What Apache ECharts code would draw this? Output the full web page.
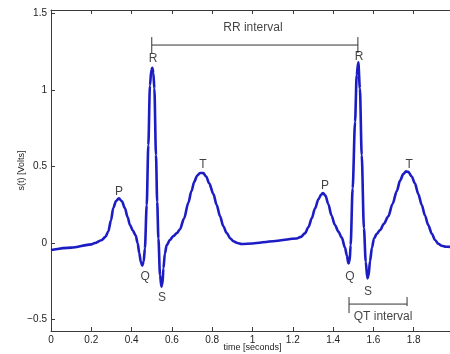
<!DOCTYPE html>
<html>
<head>
<meta charset="utf-8">
<script src="https://cdn.jsdelivr.net/npm/echarts@6/dist/echarts.min.js"></script>
<style>
html,body{margin:0;padding:0;background:#fff;}
#chart{width:450px;height:354px;}
</style>
</head>
<body>
<div id="chart"></div>
<script>
// ECG trace (time in seconds, amplitude in volts)
const times = [0, 0.1, 0.2, 0.218, 0.25, 0.27, 0.284, 0.298, 0.309, 0.323, 0.337, 0.352, 0.367, 0.38, 0.392, 0.405, 0.42, 0.43, 0.438, 0.446, 0.453, 0.46, 0.466, 0.475, 0.483, 0.491, 0.498, 0.503, 0.508, 0.513, 0.521, 0.527, 0.533, 0.541, 0.548, 0.553, 0.558, 0.565, 0.574, 0.59, 0.607, 0.625, 0.64, 0.66, 0.682, 0.697, 0.711, 0.725, 0.74, 0.756, 0.77, 0.785, 0.806, 0.822, 0.839, 0.855, 0.872, 0.89, 0.905, 0.925, 0.946, 1.0, 1.103, 1.219, 1.24, 1.26, 1.278, 1.294, 1.31, 1.327, 1.34, 1.35, 1.362, 1.376, 1.392, 1.409, 1.426, 1.443, 1.459, 1.468, 1.476, 1.482, 1.487, 1.497, 1.509, 1.517, 1.525, 1.533, 1.542, 1.553, 1.562, 1.57, 1.576, 1.583, 1.593, 1.603, 1.617, 1.633, 1.652, 1.674, 1.695, 1.716, 1.733, 1.748, 1.762, 1.773, 1.79, 1.806, 1.823, 1.84, 1.856, 1.872, 1.89, 1.906, 1.922, 1.939, 1.96, 1.98, 2.0];
const volts = [-0.046, -0.03, -0.009, 0.0, 0.018, 0.04, 0.074, 0.15, 0.229, 0.275, 0.292, 0.272, 0.227, 0.17, 0.118, 0.085, 0.05, 0.0, -0.065, -0.125, -0.148, -0.12, -0.035, 0.248, 0.64, 1.03, 1.13, 1.146, 1.11, 1.01, 0.575, 0.27, 0.03, -0.21, -0.285, -0.27, -0.165, -0.07, -0.015, 0.02, 0.045, 0.065, 0.09, 0.16, 0.265, 0.34, 0.4, 0.44, 0.458, 0.457, 0.435, 0.39, 0.32, 0.25, 0.175, 0.11, 0.065, 0.03, 0.012, 0.0, -0.006, -0.003, 0.012, 0.03, 0.04, 0.063, 0.105, 0.161, 0.225, 0.285, 0.315, 0.327, 0.31, 0.255, 0.18, 0.118, 0.075, 0.035, -0.03, -0.08, -0.133, -0.12, -0.013, 0.357, 0.793, 1.098, 1.181, 1.011, 0.575, 0.096, -0.122, -0.231, -0.215, -0.12, -0.03, 0.03, 0.06, 0.085, 0.125, 0.175, 0.255, 0.34, 0.41, 0.45, 0.468, 0.465, 0.435, 0.39, 0.32, 0.248, 0.18, 0.118, 0.06, 0.02, -0.005, -0.018, -0.024, -0.025, -0.025];

// Axis ticks
const yTicks = [-0.5, 0, 0.5, 1, 1.5];
const yRange = [-0.575, 1.523];
const xRange = [0, 2];
const xStep = 0.2;

// Wave labels
const waveNames = ['P', 'R', 'Q', 'S', 'T', 'P', 'R', 'Q', 'S', 'T'];
const waveX = [0.337, 0.506, 0.467, 0.551, 0.754, 1.360, 1.529, 1.484, 1.573, 1.777];
const waveY = [0.333, 1.203, -0.222, -0.359, 0.510, 0.373, 1.216, -0.222, -0.320, 0.510];

// Interval brackets
const rrX = [0.5, 1.523];
const rrY = 1.294;
const rrTick = [1.242, 1.346];
const rrText = 'RR interval';
const rrTextPos = [1.002, 1.405];
const qtX = [1.479, 1.767];
const qtY = -0.399;
const qtLeftTick = [-0.458, -0.353];
const qtRightTick = [-0.412, -0.353];
const qtText = 'QT interval';
const qtTextPos = [1.648, -0.484];

const FONT = 'Liberation Sans, Arial, sans-serif';
const AX = '#3a3a3a';

function seg(p, q) {
  return {
    type: 'line', data: [p, q], symbol: 'none', silent: true, animation: false,
    lineStyle: { color: '#333', width: 1 }, xAxisIndex: 0, yAxisIndex: 0, z: 3
  };
}

function textSeries(names, xs, ys) {
  return {
    type: 'scatter', symbolSize: 1, animation: false, silent: true, z: 6,
    itemStyle: { color: 'rgba(0,0,0,0)' },
    data: names.map((n, i) => ({ name: n, value: [xs[i], ys[i]] })),
    label: {
      show: true, position: 'inside', formatter: p => p.name,
      fontFamily: FONT, fontSize: 12, color: '#111', textBorderWidth: 0
    }
  };
}

const series = [
  {
    type: 'line', data: times.map((t, i) => [t, volts[i]]), symbol: 'none',
    smooth: 0.3, smoothMonotone: 'x',
    lineStyle: { color: '#1c1cc4', width: 2.6 }, animation: false, z: 5
  },
  seg([rrX[0], rrY], [rrX[1], rrY]),
  seg([rrX[0], rrTick[0]], [rrX[0], rrTick[1]]),
  seg([rrX[1], rrTick[0]], [rrX[1], rrTick[1]]),
  seg([qtX[0], qtY], [qtX[1], qtY]),
  seg([qtX[0], qtLeftTick[0]], [qtX[0], qtLeftTick[1]]),
  seg([qtX[1], qtRightTick[0]], [qtX[1], qtRightTick[1]]),
  textSeries(waveNames, waveX, waveY),
  textSeries([rrText, qtText], [rrTextPos[0], qtTextPos[0]], [rrTextPos[1], qtTextPos[1]])
];

const chart = echarts.init(document.getElementById('chart'), null, { renderer: 'canvas' });
chart.setOption({
  backgroundColor: '#fff',
  animation: false,
  grid: { left: 51, top: 10, width: 403, height: 321, containLabel: false, outerBoundsMode: 'none' },
  xAxis: [
    {
      type: 'value', min: xRange[0], max: xRange[1], interval: xStep, position: 'bottom',
      name: 'time [seconds]', nameLocation: 'middle', nameGap: 12, nameMoveOverlap: false,
      nameTextStyle: { fontFamily: FONT, fontSize: 9, color: '#222' },
      axisLine: { show: true, onZero: false, lineStyle: { color: AX, width: 1 } },
      axisTick: { show: true, inside: true, length: 4, lineStyle: { color: AX } },
      axisLabel: { fontFamily: FONT, fontSize: 10, color: '#222', margin: 4,
        formatter: v => String(Math.round(v * 10) / 10) },
      splitLine: { show: false }
    },
    {
      type: 'value', min: xRange[0], max: xRange[1], interval: xStep, position: 'top',
      axisLine: { show: true, onZero: false, lineStyle: { color: AX, width: 1 } },
      axisTick: { show: true, inside: true, length: 4, lineStyle: { color: AX } },
      axisLabel: { show: false }, splitLine: { show: false }
    }
  ],
  yAxis: [
    {
      type: 'value', min: yRange[0], max: yRange[1], position: 'left',
      name: 's(t) [Volts]', nameLocation: 'middle', nameGap: 25, nameRotate: 90, nameMoveOverlap: false,
      nameTextStyle: { fontFamily: FONT, fontSize: 9, color: '#222' },
      axisLine: { show: true, onZero: false, lineStyle: { color: AX, width: 1 } },
      axisTick: { show: true, inside: true, length: 4, customValues: yTicks, lineStyle: { color: AX } },
      axisLabel: { fontFamily: FONT, fontSize: 10, color: '#222', margin: 4, customValues: yTicks,
        formatter: v => (v < 0 ? '\u2212' + Math.abs(v) : String(v)) },
      splitLine: { show: false }
    }
  ],
  series: series
});
</script>
</body>
</html>
